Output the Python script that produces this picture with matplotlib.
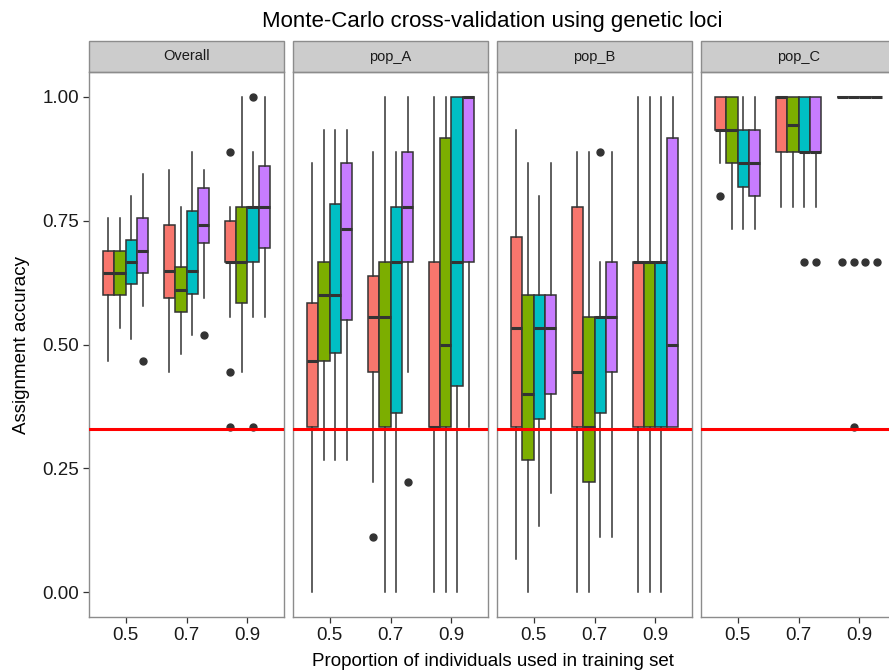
import matplotlib
matplotlib.use("Agg")
import matplotlib.pyplot as plt
from matplotlib.patches import Rectangle

plt.rcParams['font.family'] = ['Liberation Sans', 'DejaVu Sans']

# ---------------- data ----------------
panels = ["Overall", "pop_A", "pop_B", "pop_C"]
proportions = ["0.5", "0.7", "0.9"]
fill_colors = ["#F8766D", "#7CAE00", "#00BFC4", "#C77CFF"]
y_ticks = [0.00, 0.25, 0.50, 0.75, 1.00]
y_tick_labels = ["0.00", "0.25", "0.50", "0.75", "1.00"]
chance_level = 0.33

# box stats per panel: for each proportion, 4 fills of (whislo, q1, med, q3, whishi)
overall_stats = [
    [(0.467, 0.600, 0.644, 0.689, 0.756), (0.533, 0.600, 0.644, 0.689, 0.756),
     (0.511, 0.622, 0.667, 0.711, 0.800), (0.578, 0.644, 0.689, 0.756, 0.844)],
    [(0.444, 0.593, 0.648, 0.741, 0.852), (0.481, 0.565, 0.611, 0.657, 0.778),
     (0.519, 0.602, 0.648, 0.769, 0.889), (0.593, 0.704, 0.741, 0.815, 0.852)],
    [(0.556, 0.667, 0.667, 0.750, 0.778), (0.444, 0.583, 0.667, 0.778, 1.000),
     (0.556, 0.667, 0.778, 0.778, 0.889), (0.556, 0.694, 0.778, 0.861, 1.000)],
]
popA_stats = [
    [(0.000, 0.333, 0.467, 0.583, 0.867), (0.267, 0.467, 0.600, 0.667, 0.933),
     (0.267, 0.483, 0.600, 0.783, 0.933), (0.267, 0.550, 0.733, 0.867, 0.933)],
    [(0.222, 0.444, 0.556, 0.639, 0.889), (0.000, 0.333, 0.556, 0.667, 1.000),
     (0.000, 0.361, 0.667, 0.778, 0.889), (0.444, 0.667, 0.778, 0.889, 1.000)],
    [(0.000, 0.333, 0.333, 0.667, 1.000), (0.000, 0.333, 0.500, 0.917, 1.000),
     (0.000, 0.417, 0.667, 1.000, 1.000), (0.333, 0.667, 1.000, 1.000, 1.000)],
]
popB_stats = [
    [(0.067, 0.333, 0.533, 0.717, 0.933), (0.000, 0.267, 0.400, 0.600, 0.867),
     (0.133, 0.350, 0.533, 0.600, 0.800), (0.200, 0.400, 0.533, 0.600, 0.867)],
    [(0.000, 0.333, 0.444, 0.778, 0.889), (0.000, 0.222, 0.333, 0.556, 0.889),
     (0.111, 0.361, 0.556, 0.556, 0.667), (0.111, 0.444, 0.556, 0.667, 0.889)],
    [(0.000, 0.333, 0.667, 0.667, 1.000), (0.000, 0.333, 0.667, 0.667, 1.000),
     (0.000, 0.333, 0.667, 0.667, 1.000), (0.333, 0.333, 0.500, 0.917, 1.000)],
]
popC_stats = [
    [(0.867, 0.933, 0.933, 1.000, 1.000), (0.733, 0.867, 0.933, 1.000, 1.000),
     (0.733, 0.817, 0.867, 0.933, 1.000), (0.733, 0.800, 0.867, 0.933, 1.000)],
    [(0.778, 0.889, 1.000, 1.000, 1.000), (0.778, 0.889, 0.944, 1.000, 1.000),
     (0.778, 0.889, 0.889, 1.000, 1.000), (0.778, 0.889, 0.889, 1.000, 1.000)],
    [(1.000, 1.000, 1.000, 1.000, 1.000), (1.000, 1.000, 1.000, 1.000, 1.000),
     (1.000, 1.000, 1.000, 1.000, 1.000), (1.000, 1.000, 1.000, 1.000, 1.000)],
]

# outliers: (panel index, proportion index, fill index, value)
outliers = [
    (0, 0, 3, 0.467),
    (0, 1, 3, 0.519),
    (0, 2, 0, 0.889), (0, 2, 0, 0.444), (0, 2, 0, 0.333),
    (0, 2, 2, 1.000), (0, 2, 2, 0.333),
    (1, 1, 0, 0.111), (1, 1, 3, 0.222),
    (2, 1, 2, 0.889),
    (3, 0, 0, 0.800),
    (3, 1, 2, 0.667), (3, 1, 3, 0.667),
    (3, 2, 0, 0.667), (3, 2, 1, 0.667), (3, 2, 1, 0.333),
    (3, 2, 2, 0.667), (3, 2, 3, 0.667),
]

panel_stats = [overall_stats, popA_stats, popB_stats, popC_stats]

# ---------------- figure ----------------
W, H = 889, 672
fig = plt.figure(figsize=(W / 100, H / 100), dpi=100)

panel_left_px = [89, 293, 497, 701]
panel_w_px = 195
panel_top_px, panel_bot_px = 72, 617
strip_h_px = 31

line_col = "#333333"
border_col = "#8C8C8C"
dodge = 0.75
n_fill = len(fill_colors)
bw = dodge / n_fill

for p, name in enumerate(panels):
    ax = fig.add_axes([panel_left_px[p] / W, 1 - panel_bot_px / H,
                       panel_w_px / W, (panel_bot_px - panel_top_px) / H])
    stats = panel_stats[p]
    for g in range(len(proportions)):
        for f in range(n_fill):
            wl, q1, med, q3, wh = stats[g][f]
            fl = [v for (pi, gi, fi, v) in outliers if pi == p and gi == g and fi == f]
            pos = (g + 1) - dodge / 2 + bw * (f + 0.5)
            ax.bxp([dict(whislo=wl, q1=q1, med=med, q3=q3, whishi=wh, fliers=fl)],
                   positions=[pos], widths=[bw], patch_artist=True,
                   showcaps=False, manage_ticks=False,
                   boxprops=dict(facecolor=fill_colors[f], edgecolor=line_col, linewidth=1.1),
                   whiskerprops=dict(color=line_col, linewidth=1.1),
                   medianprops=dict(color=line_col, linewidth=2.2, solid_capstyle='butt'),
                   flierprops=dict(marker='o', markerfacecolor=line_col,
                                   markeredgecolor=line_col, markersize=5.0))
    ax.axhline(chance_level, color="red", linewidth=2.2, zorder=10)
    ax.set_xlim(0.4, 3.6)
    ax.set_ylim(-0.05, 1.05)
    ax.set_xticks([1, 2, 3])
    ax.set_xticklabels(proportions, fontsize=13.5, color="#1a1a1a")
    ax.set_yticks(y_ticks)
    if p == 0:
        ax.set_yticklabels(y_tick_labels, fontsize=13.5, color="#1a1a1a")
    else:
        ax.tick_params(axis='y', left=False, labelleft=False)
    ax.tick_params(axis='both', direction='out', length=4, width=0.9,
                   color=line_col, pad=3)
    for s in ax.spines.values():
        s.set_color(border_col)
        s.set_linewidth(1.0)
    ax.set_facecolor("white")
    # strip
    sh = strip_h_px / (panel_bot_px - panel_top_px)
    ax.add_patch(Rectangle((0, 1), 1, sh, transform=ax.transAxes,
                           facecolor="#CCCCCC", edgecolor=border_col,
                           linewidth=1.0, clip_on=False))
    ax.text(0.5, 1 + sh / 2, name, transform=ax.transAxes, ha='center',
            va='center', fontsize=10.5, color="#1a1a1a")

cx = (89 + 896) / 2 / W
fig.text(cx, 1 - 22 / H, "Monte-Carlo cross-validation using genetic loci",
         ha='center', va='center', fontsize=16)
fig.text(cx, 1 - 662 / H, "Proportion of individuals used in training set",
         ha='center', va='center', fontsize=13.5)
fig.text(22 / W, 1 - 345 / H, "Assignment accuracy", rotation=90,
         ha='center', va='center', fontsize=13.5)

fig.savefig("out.png", dpi=100)
